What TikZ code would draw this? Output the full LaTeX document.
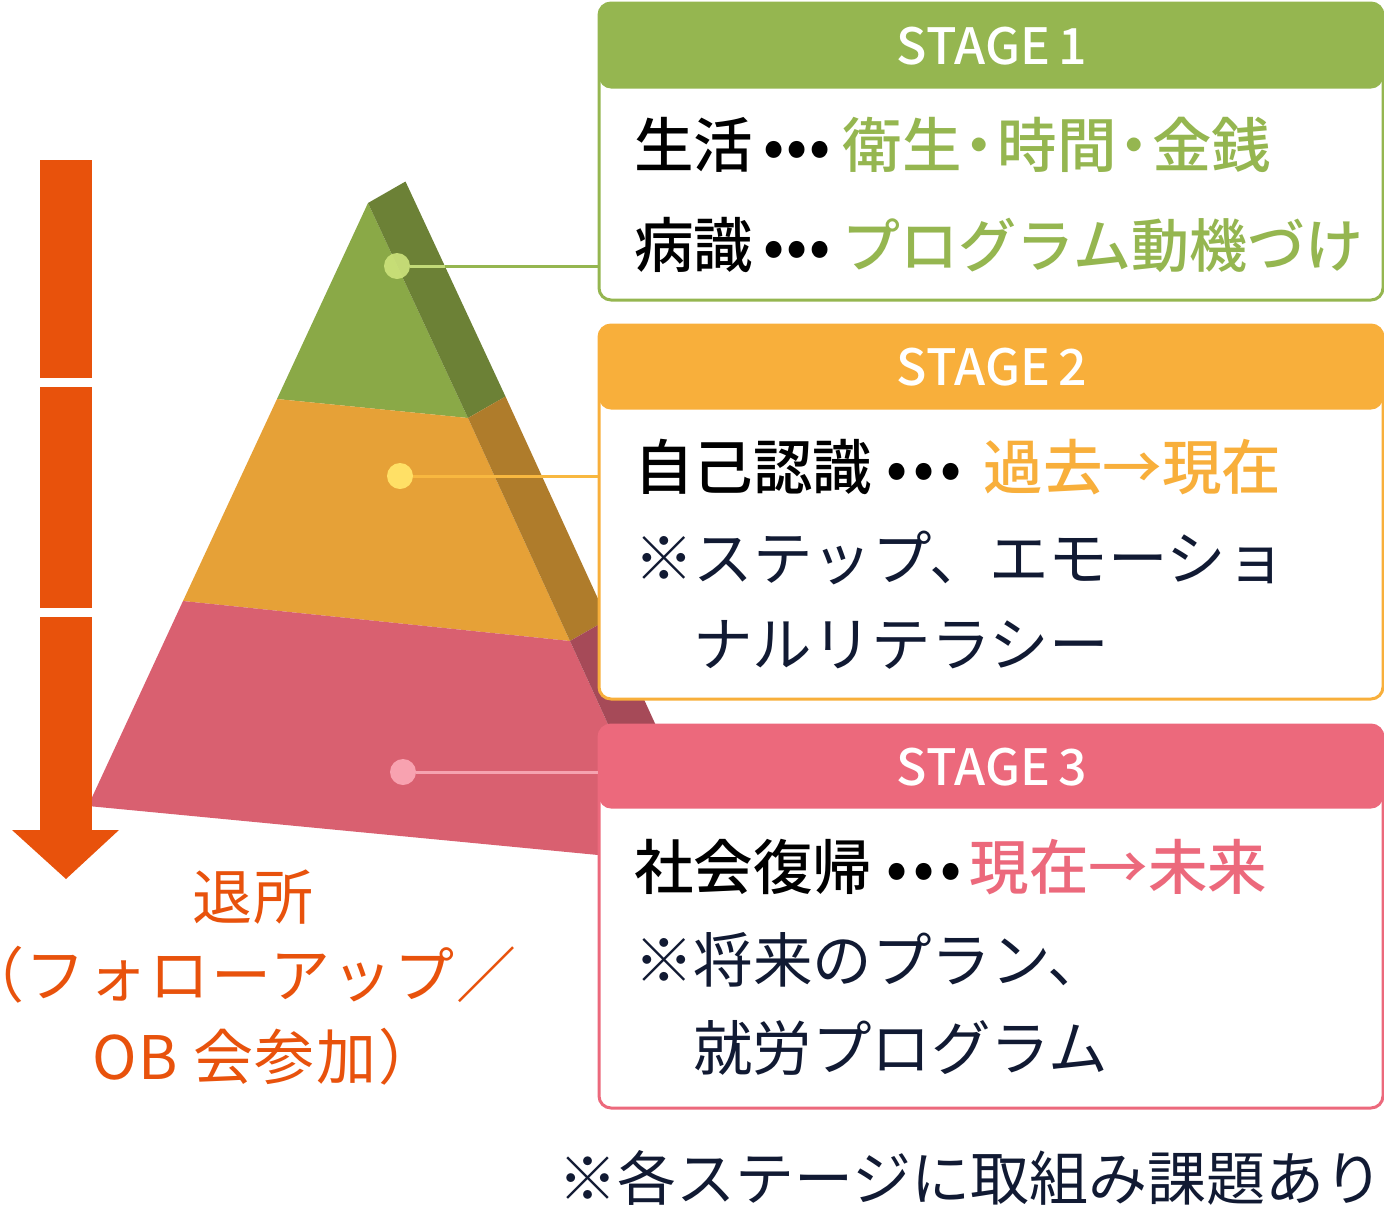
\documentclass[tikz,border=0pt]{standalone}
\usepackage{fontspec}
\setmainfont{Noto Sans CJK JP}[BoldFont={Noto Sans CJK JP Medium}]
\newfontfamily\leftfont{Noto Sans CJK JP}[LetterSpace=3]
\definecolor{gA}{HTML}{95B650}
\definecolor{oA}{HTML}{F8AF3B}
\definecolor{pA}{HTML}{EC697C}
\definecolor{arr}{HTML}{E8520C}
\definecolor{navy}{HTML}{111A33}
\definecolor{gF}{HTML}{8AA947}
\definecolor{gS}{HTML}{6C8136}
\definecolor{oF}{HTML}{E6A137}
\definecolor{oS}{HTML}{AF7C2B}
\definecolor{rF}{HTML}{D96070}
\definecolor{rS}{HTML}{A64A58}
\definecolor{gDot}{HTML}{CDE37C}
\definecolor{oDot}{HTML}{FFE066}
\definecolor{pDot}{HTML}{F8A2B0}
\definecolor{gLine}{HTML}{C2DA78}
\definecolor{oLine}{HTML}{F8B840}
\definecolor{pLine}{HTML}{F5A3B0}
\newcommand{\bigfont}{\fontsize{59.5pt}{61pt}\selectfont}
\newcommand{\hdfont}{\fontsize{50pt}{52pt}\selectfont}
\newcommand{\nd}{\kern-.2em・\kern-.2em}
\newcommand{\bd}[3]{\hspace{#1}•\hspace{#2}•\hspace{#2}•\hspace{#3}}
\tikzset{
  stagebox/.style n args={3}{draw=#1, fill=white, line width=3pt, rounded corners=12pt,
    anchor=north west, inner sep=0pt, minimum width=784pt, minimum height=#2,
    path picture={\fill[#1] (path picture bounding box.north west) rectangle
      ([yshift=-#3]path picture bounding box.north east);}},
  hdr/.style={text=white, font=\hdfont\bfseries, inner sep=0pt},
  line/.style={anchor=west, inner sep=0pt, font=\bigfont, text=navy},
  keyt/.style={anchor=west, inner sep=0pt, font=\bigfont\bfseries, text=black},
  lefttext/.style={anchor=west, inner sep=0pt, font=\leftfont\fontsize{60pt}{62pt}\selectfont, text=arr},
  pdot/.style={circle, inner sep=0pt, minimum size=26pt},
}
\begin{document}
\begin{tikzpicture}[x=1pt,y=-1pt]
\useasboundingbox (0,0) rectangle (1384,1205);
% pyramid points
\coordinate (A) at (368,203);
\coordinate (B1L) at (277,399);
\coordinate (B2L) at (183,601);
\coordinate (BL) at (88,806);
\coordinate (B1R) at (468,418);
\coordinate (B2R) at (570,641);
\coordinate (BR) at (671,862);
\coordinate (Ab) at (405.5,181.5);
\coordinate (B1Rb) at (505.5,396.5);
\coordinate (B2Rb) at (607.5,619.5);
\coordinate (BRb) at (708.5,840.5);
% faces
\fill[gF] (A) -- (B1L) -- (B1R) -- cycle;
\fill[gS] (A) -- (Ab) -- (B1Rb) -- (B1R) -- cycle;
\fill[oF] (B1L) -- (B2L) -- (B2R) -- (B1R) -- cycle;
\fill[oS] (B1R) -- (B1Rb) -- (B2Rb) -- (B2R) -- cycle;
\fill[rF] (B2L) -- (BL) -- (BR) -- (B2R) -- cycle;
\fill[rS] (B2R) -- (B2Rb) -- (BRb) -- (BR) -- cycle;
% arrow
\fill[arr] (40,160) rectangle (91.5,378.3);
\fill[arr] (40,386.7) rectangle (91.5,608.3);
\fill[arr] (40,616.7) rectangle (91.5,831);
\fill[arr] (12,830) -- (119,830) -- (66,879) -- cycle;
% dots
\node[pdot, fill=gDot, fill opacity=.9] (d1) at (397,266) {};
\node[pdot, fill=oDot] (d2) at (400,476) {};
\node[pdot, fill=pDot] (d3) at (403,772) {};
% boxes
\node[stagebox={gA}{297pt}{85.5pt}] (s1) at (597.5,1.5) {};
\node[stagebox={oA}{374pt}{84.5pt}] (s2) at (597.5,323.5) {};
\node[stagebox={pA}{383pt}{83.5pt}] (s3) at (597.5,723.5) {};
% connectors
\coordinate (e1) at (445,266);
\draw[gLine, line width=3pt] (d1.east) -- (e1);
\draw[gA, line width=3pt] (e1) -- (d1 -| s1.west);
\draw[oLine, line width=3pt] (d2.east) -- (d2 -| s2.west);
\draw[pLine, line width=3pt] (d3.east) -- (d3 -| s3.west);
% headers
\node[hdr] (h1) at (992,46) {STAGE\,1};
\node[hdr] (h2) at (992,367) {STAGE\,2};
\node[hdr] (h3) at (992,767) {STAGE\,3};
% stage 1
\node[keyt] (k11) at (634,145) {生活\bd{10pt}{2pt}{12pt}\textcolor{gA}{衛生\nd 時間\nd 金銭}};
\node[keyt] (k12) at (634,245) {病識\bd{10pt}{2pt}{12pt}\textcolor{gA}{\fontsize{58pt}{60pt}\selectfont プログラム動機づけ}};
% stage 2
\node[keyt] (k21) at (634,467) {自己認識\bd{14pt}{6pt}{22pt}\textcolor{oA}{過去→現在}};
\node[line] (l22) at (634,558) {※ステップ、エモーショ};
\node[line] (l23) at (693,645) {ナルリテラシー};
% stage 3
\node[keyt] (k31) at (634,867) {社会復帰\bd{14pt}{6pt}{8pt}\textcolor{pA}{現在→未来}};
\node[line] (l32) at (634,960) {※将来のプラン、};
\node[line] (l33) at (693,1048) {就労プログラム};
% footer
\node[line, anchor=east, font=\fontsize{59pt}{61pt}\selectfont] (ft) at (1384,1178) {※各ステージに取組み課題あり};
% left text
\node[lefttext] (t1) at (192,897) {退所};
\node[lefttext] (t2) at (-36,975) {（フォローアップ／};
\node[lefttext] (t3) at (92,1057) {OB 会参加）};
\end{tikzpicture}
\end{document}
